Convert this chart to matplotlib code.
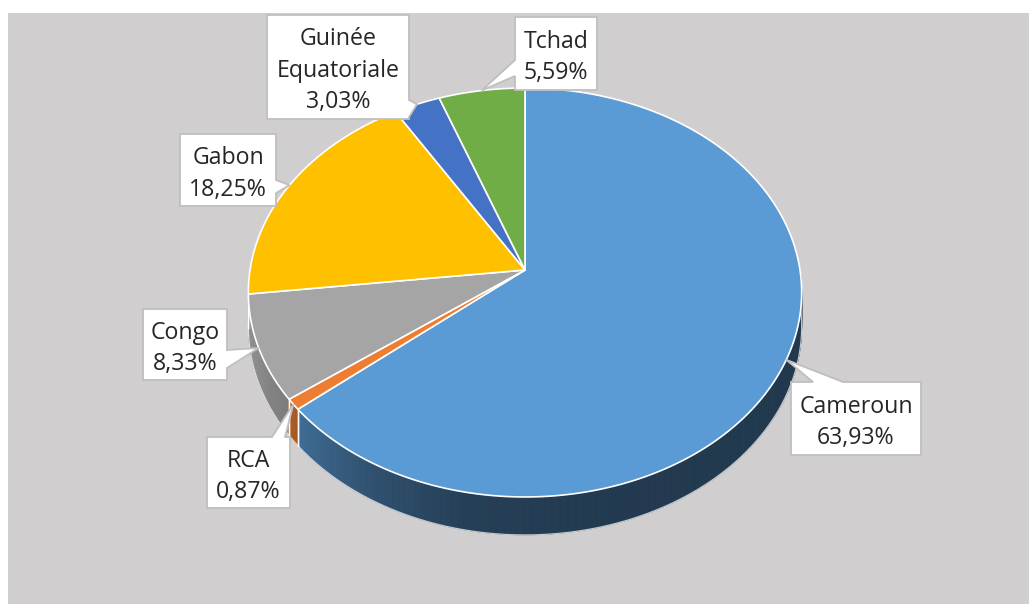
import numpy as np
import matplotlib
matplotlib.use("Agg")
import matplotlib.pyplot as plt
from matplotlib.patches import Polygon, Rectangle
from matplotlib.collections import PolyCollection
from matplotlib.colors import to_rgb

# ---- data ----
countries = ["Cameroun", "RCA", "Congo", "Gabon", "Guinée\nEquatoriale", "Tchad"]
shares = [63.93, 0.87, 8.33, 18.25, 3.03, 5.59]
slice_colors = ["#5B9BD5", "#ED7D31", "#A5A5A5", "#FFC000", "#4472C4", "#70AD47"]

# ---- layout (pixels) ----
W, Hpx = 1029, 604
CX, CY, A, B, K, TH = 525, 270, 275, 202, 0.110, 33.8

# label boxes: (x0, y0, x1, y1, edge, base1, base2)
label_boxes = {
    "Cameroun": (791, 382, 921, 455, "top", 813, 843),
    "RCA": (207, 437, 290, 508, "top", 272, 285),
    "Congo": (143, 309, 227, 380, "right", 350, 368),
    "Gabon": (180, 134, 276, 206, "right", 180, 193),
    "Guinée\nEquatoriale": (267, 15, 409, 119, "right", 100, 117),
    "Tchad": (515, 17, 597, 90, "left", 60, 76),
}


def proj(phi_deg, depth=0.0):
    p = np.radians(phi_deg)
    u, v = np.cos(p), np.sin(p)
    d = 1 + K * v
    return CX + A * u / d, CY - B * v / d + depth * TH / d


def side_factor(phi):
    ph = phi % 360
    return np.interp(ph, [180, 200, 215, 222, 240, 260, 290, 360],
                     [0.90, 0.85, 0.76, 0.68, 0.52, 0.40, 0.37, 0.36])


fig = plt.figure(figsize=(W / 100, Hpx / 100), dpi=100)
fig.patch.set_facecolor("white")
ax = fig.add_axes([0, 0, 1, 1])
ax.set_xlim(0, W)
ax.set_ylim(Hpx, 0)
ax.axis("off")

ax.add_patch(Rectangle((8, 13), W - 8, Hpx - 13, facecolor="#D0CECF",
                       edgecolor="none", zorder=0))

total = sum(shares)
cum = np.concatenate([[0], np.cumsum(shares)]) / total * 360.0
phi_start = 90 - cum[:-1]
phi_end = 90 - cum[1:]

# ---- sides ----
quads, qcols, qv = [], [], []
for i, col in enumerate(slice_colors):
    lo = max(phi_end[i], -180.0)
    hi = min(phi_start[i], 0.0)
    if hi <= lo:
        continue
    n = max(2, int((hi - lo) / 0.5) + 1)
    ph = np.linspace(lo, hi, n)
    base = np.array(to_rgb(col))
    for a0, a1 in zip(ph[:-1], ph[1:]):
        x0, y0 = proj(a0)
        x1, y1 = proj(a1)
        x2, y2 = proj(a1, 1)
        x3, y3 = proj(a0, 1)
        quads.append([(x0, y0), (x1, y1), (x2, y2), (x3, y3)])
        f = side_factor((a0 + a1) / 2)
        qcols.append(tuple(np.clip(base * f, 0, 1)))
        qv.append(np.sin(np.radians((a0 + a1) / 2)))
order = np.argsort(qv)[::-1]
pc = PolyCollection([quads[j] for j in order],
                    facecolors=[qcols[j] for j in order],
                    edgecolors=[qcols[j] for j in order], linewidths=0.6,
                    zorder=1)
ax.add_collection(pc)

# side slice boundaries and bottom rim
for i in range(len(shares)):
    for a in (phi_start[i], phi_end[i]):
        am = ((a + 180) % 360) - 180
        if -180 < am < 0:
            xa, ya = proj(am)
            xb, yb = proj(am, 1)
            ax.plot([xa, xb], [ya, yb], color="white", lw=1.0, zorder=1.5)
rim = np.linspace(-186, 6, 300)
bx, by = proj(rim, 1)
ax.plot(bx, by, color="white", lw=0.9, alpha=0.7, zorder=1.5)

# ---- top faces ----
for i, col in enumerate(slice_colors):
    n = max(3, int(abs(phi_start[i] - phi_end[i]) * 2) + 2)
    ph = np.linspace(phi_start[i], phi_end[i], n)
    xs, ys = proj(ph)
    pts = [(CX, CY)] + list(zip(xs, ys))
    ax.add_patch(Polygon(pts, closed=True, facecolor=col, edgecolor="white",
                         linewidth=1.2, joinstyle="round", zorder=2))

# ---- callout labels ----
for i, name in enumerate(countries):
    x0, y0, x1, y1, edge, b1, b2 = label_boxes[name]
    mid = (phi_start[i] + phi_end[i]) / 2
    tx, ty = proj(mid)
    if edge == "top":
        pts = [(x0, y0), (b1, y0), (tx, ty), (b2, y0), (x1, y0), (x1, y1), (x0, y1)]
    elif edge == "right":
        pts = [(x0, y0), (x1, y0), (x1, b1), (tx, ty), (x1, b2), (x1, y1), (x0, y1)]
    else:  # left
        pts = [(x0, y0), (x1, y0), (x1, y1), (x0, y1), (x0, b2), (tx, ty), (x0, b1)]
    ax.add_patch(Polygon(pts, closed=True, facecolor="white", edgecolor="#BFBFBF",
                         linewidth=1.3, zorder=3))
    val = f"{shares[i]:.2f}%".replace(".", ",")
    lines = name.split("\n") + [val]
    nl = len(lines)
    pitch = 31.5
    yc = (y0 + y1) / 2 + 1.5
    for j, line in enumerate(lines):
        cy = yc + (j - (nl - 1) / 2) * pitch
        ax.text((x0 + x1) / 2, cy + 8.3, line, ha="center", va="baseline",
                fontsize=16.7, family=["Open Sans", "DejaVu Sans"],
                color="#262626", zorder=4)

fig.savefig("out.png", dpi=100, facecolor=fig.get_facecolor())
